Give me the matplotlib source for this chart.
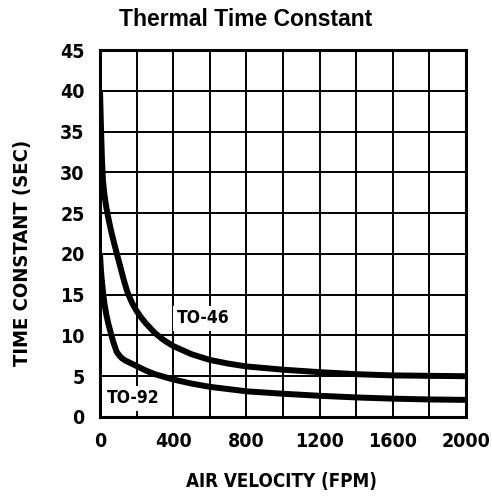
import numpy as np
import matplotlib
matplotlib.use("Agg")
import matplotlib.pyplot as plt
from matplotlib import font_manager

# values
to46_x = [0, 3, 6, 10, 16, 24, 33, 42, 52, 62, 75, 90, 110, 130, 150, 175, 200, 225, 250, 300, 350, 400, 500, 600, 700, 800, 1000, 1200, 1400, 1600, 1800, 2000]
to46_y = [40, 37.5, 35, 32, 29, 27.3, 25.9, 24.8, 23.7, 22.7, 21.5, 20.2, 18.5, 16.8, 15.3, 14.0, 13.0, 12.2, 11.5, 10.3, 9.4, 8.7, 7.7, 7.0, 6.55, 6.2, 5.8, 5.5, 5.25, 5.1, 5.05, 5.0]

to92_x = [0, 4, 8, 12, 18, 25, 35, 45, 60, 70, 80, 91, 105, 120, 140, 173, 200, 250, 300, 400, 500, 600, 800, 1000, 1200, 1400, 1600, 1800, 2000]
to92_y = [20, 18.4, 17.2, 16.3, 15.0, 13.8, 12.5, 11.5, 10.2, 9.4, 8.7, 8.0, 7.55, 7.2, 6.9, 6.55, 6.25, 5.7, 5.25, 4.6, 4.1, 3.7, 3.15, 2.85, 2.6, 2.4, 2.25, 2.15, 2.1]

x_ticks = [0, 400, 800, 1200, 1600, 2000]
y_ticks = [0, 5, 10, 15, 20, 25, 30, 35, 40, 45]

def narrow(size):
    return font_manager.FontProperties(family='DejaVu Sans', stretch='condensed',
                                       weight='bold', size=size)

fig = plt.figure(figsize=(4.92, 4.99), dpi=100)
ax = fig.add_axes([100/492, 1-417/499, 366/492, 367/499])

ax.set_xlim(0, 2000)
ax.set_ylim(0, 45)
ax.set_xticks(np.arange(0, 2001, 200), minor=True)
ax.set_xticks(x_ticks)
ax.set_yticks(y_ticks)
ax.grid(True, which='both', color='black', linewidth=1.4)
ax.set_axisbelow(True)
ax.tick_params(which='both', length=0, pad=11)
for lab in ax.get_xticklabels() + ax.get_yticklabels():
    lab.set_fontproperties(narrow(14))
for s in ax.spines.values():
    s.set_linewidth(2.2)

ax.plot(to46_x, to46_y, color='black', linewidth=4.3, solid_joinstyle='round', solid_capstyle='butt')
ax.plot(to92_x, to92_y, color='black', linewidth=4.3, solid_joinstyle='round', solid_capstyle='butt')

box = dict(facecolor='white', edgecolor='none', pad=2.5)
ax.text(563, 12.1, 'TO-46', fontproperties=narrow(12.5), ha='center', va='center', bbox=box)
ax.text(180, 2.3, 'TO-92', fontproperties=narrow(12.5), ha='center', va='center', bbox=box)

fig.text(246/492, 1-19/499, 'Thermal Time Constant', family='Liberation Sans',
         fontweight='bold', fontsize=16.5, ha='center', va='center')
fig.text(23/492, 1-253/499, 'TIME CONSTANT (SEC)', fontproperties=narrow(14.5),
         rotation=90, ha='center', va='center')
fig.text(282/492, 1-481/499, 'AIR VELOCITY (FPM)', fontproperties=narrow(13.5),
         ha='center', va='center')

plt.savefig('out.png', dpi=100)
plt.close()
